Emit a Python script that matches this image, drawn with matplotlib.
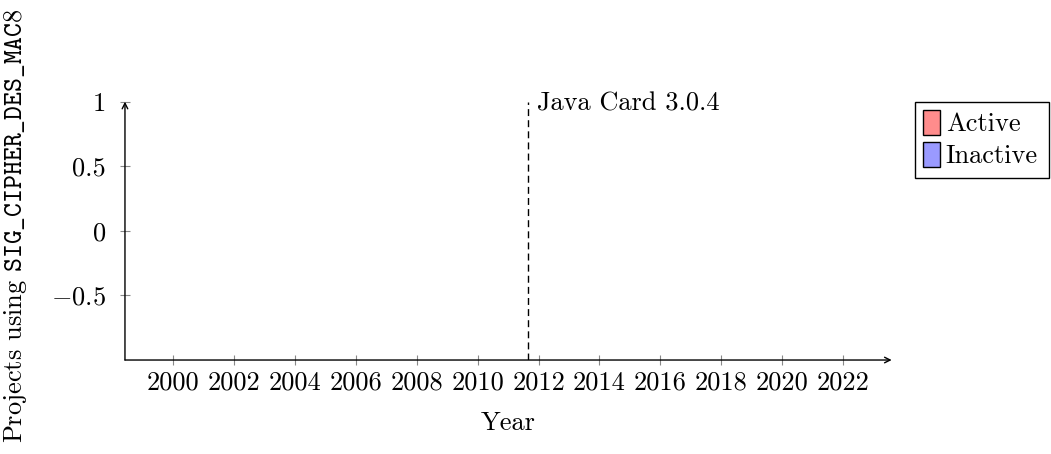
import numpy as np
import matplotlib
matplotlib.use("Agg")
import matplotlib.pyplot as plt
from matplotlib.patches import Patch, Rectangle

# Datos del gráfico (vacío: no hay proyectos)
years = list(range(2000, 2023, 2))
y_ticks = [1, 0.5, 0, -0.5]
y_tick_labels = ["1", "0.5", "0", "$-0.5$"]
release_year = 2011.66
release_label = "Java Card 3.0.4"
series = ["Active", "Inactive"]
series_colors = ["#ff8c8c", "#9a9aff"]

plt.rcParams["font.family"] = ["cmr10"]
plt.rcParams["mathtext.fontset"] = "cm"
plt.rcParams["axes.formatter.use_mathtext"] = True

fig = plt.figure(figsize=(10.51, 4.54), dpi=100)
ax = fig.add_axes([0.1189, 0.2070, 0.8484 - 0.1189, 0.776 - 0.2070])

ax.set_xlim(1998.41, 2023.6)
ax.set_ylim(-1, 1)

for s in ax.spines.values():
    s.set_visible(False)

# Ejes con flecha al estilo pgfplots
ax.annotate("", xy=(1, 0), xytext=(0, 0), xycoords="axes fraction",
            arrowprops=dict(arrowstyle="->", color="black", lw=1.0,
                            shrinkA=0, shrinkB=0))
ax.annotate("", xy=(0, 1), xytext=(0, 0), xycoords="axes fraction",
            arrowprops=dict(arrowstyle="->", color="black", lw=1.0,
                            shrinkA=0, shrinkB=0))

ax.set_xticks(years)
ax.set_xticklabels([str(y) for y in years])
ax.set_yticks(y_ticks)
ax.set_yticklabels(y_tick_labels)
ax.tick_params(direction="inout", length=7, width=0.8, color="#888888",
               labelsize=19)
ax.tick_params(axis="x", pad=4)
ax.tick_params(axis="y", pad=10)

# Línea de la versión
ax.plot([release_year, release_year], [-1, 1], color="black", lw=1.0,
        linestyle=(0, (5, 3)))
ax.text(release_year + 0.3, 0.985, release_label, fontsize=19, va="center",
        ha="left")

ax.set_xlabel("Year", fontsize=19, labelpad=12)
ax.set_ylabel(r"Projects using $\mathtt{SIG\_CIPHER\_DES\_MAC8}$",
              fontsize=19)
ax.yaxis.set_label_coords(-0.125, 0.52)

# Leyenda (marco dibujado aparte para tener más margen a la derecha)
handles = [Patch(facecolor=c, edgecolor="black", lw=1.0, label=n)
           for n, c in zip(series, series_colors)]
leg = fig.legend(handles=handles, loc="upper left",
                 bbox_to_anchor=(0.871, 0.776), fontsize=19,
                 frameon=False, borderpad=0.3, handlelength=0.65,
                 handleheight=1.1, handletextpad=0.2, labelspacing=0.2,
                 borderaxespad=0)
fig.patches.append(Rectangle((915 / 1051, 1 - 178 / 454), 134 / 1051,
                             76 / 454, transform=fig.transFigure,
                             facecolor="white", edgecolor="black", lw=1.0,
                             zorder=0))

fig.savefig("out.png", dpi=100)
